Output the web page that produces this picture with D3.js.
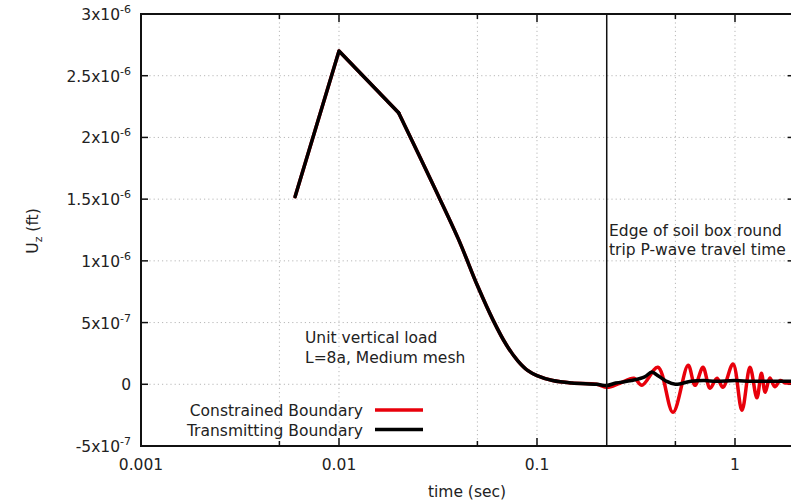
<!DOCTYPE html>
<html><head><meta charset="utf-8">
<script src="https://cdn.jsdelivr.net/npm/d3@7"></script>
<style>
body{margin:0;background:#fff;}
text{font-family:"DejaVu Sans",sans-serif;fill:#222;}
</style></head>
<body>
<svg id="chart" width="791" height="502"></svg>
<script>
// ---- data ----
const blackTime = [0.006, 0.01, 0.02, 0.03, 0.04, 0.05, 0.06, 0.07, 0.08, 0.09, 0.1, 0.12, 0.15, 0.2,
  0.225, 0.25, 0.3, 0.35, 0.38, 0.4, 0.45, 0.5, 0.6, 0.7, 0.8, 1.0, 1.2, 1.5, 2.0];
const blackU = [1.52e-6, 2.70e-6, 2.20e-6, 1.61e-6, 1.18e-6, 0.80e-6, 0.52e-6, 0.32e-6, 0.19e-6, 0.11e-6, 0.07e-6, 0.03e-6, 0.01e-6, 0.0,
  -0.01e-6, 0.01e-6, 0.03e-6, 0.06e-6, 0.10e-6, 0.08e-6, 0.025e-6, 0.0, 0.025e-6, 0.03e-6, 0.025e-6, 0.03e-6, 0.025e-6, 0.025e-6, 0.025e-6];

const redTime = [0.006, 0.01, 0.02, 0.03, 0.04, 0.05, 0.06, 0.07, 0.08, 0.09, 0.1, 0.12, 0.15, 0.2,
  0.226, 0.262, 0.309, 0.339, 0.408, 0.486, 0.58, 0.628, 0.689, 0.748, 0.811, 0.869, 0.977, 1.084, 1.19, 1.29, 1.36, 1.42, 1.5, 1.59, 1.69, 1.8, 2.0];
const redU = [1.52e-6, 2.70e-6, 2.20e-6, 1.61e-6, 1.18e-6, 0.80e-6, 0.52e-6, 0.32e-6, 0.19e-6, 0.11e-6, 0.07e-6, 0.03e-6, 0.01e-6, 0.0,
  -0.025e-6, 0.008e-6, 0.049e-6, -0.008e-6, 0.138e-6, -0.227e-6, 0.154e-6, -0.008e-6, 0.138e-6, -0.032e-6, 0.049e-6, -0.024e-6, 0.165e-6, -0.211e-6, 0.138e-6, -0.11e-6, 0.09e-6, -0.065e-6, 0.05e-6, -0.02e-6, 0.03e-6, 0.01e-6, 0.02e-6];

const xTicks = [0.001, 0.005, 0.01, 0.05, 0.1, 0.5, 1];
const xTickLabels = ["0.001", "", "0.01", "", "0.1", "", "1"];
const yTicks = [-5e-7, 0, 5e-7, 1e-6, 1.5e-6, 2e-6, 2.5e-6, 3e-6];
const yTickMant = ["-5x10", "0", "5x10", "1x10", "1.5x10", "2x10", "2.5x10", "3x10"];
const yTickExp = ["-7", "", "-7", "-6", "-6", "-6", "-6", "-6"];
const seriesNames = ["Constrained Boundary", "Transmitting Boundary"];
const seriesColors = ["#e8000b", "#000000"];
const edgeTime = 0.225;

// ---- layout ----
const svg = d3.select("#chart");
const L = 141, R = 794.6, T = 14, B = 446;
const x = d3.scaleLog().domain([0.001, 2]).range([L, R]);
const y = d3.scaleLinear().domain([-5e-7, 3e-6]).range([B, T]);
const FS = 15.5;

// grid
const grid = svg.append("g").attr("stroke", "#b8b8b8").attr("stroke-width", 1).attr("stroke-dasharray", "1.2,3");
xTicks.slice(1).forEach(t => grid.append("line").attr("x1", x(t)).attr("x2", x(t)).attr("y1", T).attr("y2", B));
yTicks.slice(1, -1).forEach(v => grid.append("line").attr("x1", L).attr("x2", R).attr("y1", y(v)).attr("y2", y(v)));

// ticks
const tk = svg.append("g").attr("stroke", "#111").attr("stroke-width", 1.5);
xTicks.forEach((t, i) => {
  const len = xTickLabels[i] ? 8 : 5;
  tk.append("line").attr("x1", x(t)).attr("x2", x(t)).attr("y1", B).attr("y2", B - len);
  tk.append("line").attr("x1", x(t)).attr("x2", x(t)).attr("y1", T).attr("y2", T + len);
});
yTicks.forEach(v => {
  tk.append("line").attr("x1", L).attr("x2", L + 7).attr("y1", y(v)).attr("y2", y(v));
  tk.append("line").attr("x1", R).attr("x2", R - 7).attr("y1", y(v)).attr("y2", y(v));
});

// tick labels
xTicks.forEach((t, i) => {
  if (!xTickLabels[i]) return;
  svg.append("text").attr("x", x(t)).attr("y", B + 24).attr("text-anchor", "middle")
    .attr("font-size", FS).text(xTickLabels[i]);
});
yTicks.forEach((v, i) => {
  const tx = svg.append("text").attr("x", 131).attr("y", y(v) + 6).attr("text-anchor", "end").attr("font-size", FS);
  tx.append("tspan").text(yTickMant[i]);
  if (yTickExp[i]) tx.append("tspan").attr("dy", -7).attr("font-size", 11).text(yTickExp[i]);
});

// axis titles
svg.append("text").attr("x", 467).attr("y", 497).attr("text-anchor", "middle").attr("font-size", FS).text("time (sec)");
const yl = svg.append("text").attr("transform", "translate(38,231) rotate(-90)").attr("text-anchor", "middle").attr("font-size", FS);
yl.append("tspan").text("U");
yl.append("tspan").attr("dy", 4).attr("font-size", 11).text("z");
yl.append("tspan").attr("dy", -4).text(" (ft)");

// data lines
svg.append("clipPath").attr("id", "pc").append("rect").attr("x", L).attr("y", T).attr("width", R - L).attr("height", B - T);
const plot = svg.append("g").attr("clip-path", "url(#pc)");
function drawSeries(times, vals, color) {
  const pts = times.map((t, i) => [t, vals[i]]);
  const early = pts.filter(p => p[0] <= 0.02);
  const late = pts.filter(p => p[0] >= 0.02);
  const lin = d3.line().x(d => x(d[0])).y(d => y(d[1])).curve(d3.curveLinear);
  const smooth = d3.line().x(d => x(d[0])).y(d => y(d[1])).curve(d3.curveCatmullRom.alpha(0.5));
  [lin(early), smooth(late)].forEach(dd =>
    plot.append("path").attr("d", dd).attr("fill", "none").attr("stroke", color).attr("stroke-width", 3.5)
      .attr("stroke-linejoin", "round").attr("stroke-linecap", "round"));
}
drawSeries(redTime, redU, seriesColors[0]);
drawSeries(blackTime, blackU, seriesColors[1]);

// vertical edge line
svg.append("line").attr("x1", x(edgeTime)).attr("x2", x(edgeTime)).attr("y1", T).attr("y2", B).attr("stroke", "#111").attr("stroke-width", 1.5);

// frame
svg.append("rect").attr("x", L).attr("y", T).attr("width", R - L).attr("height", B - T)
  .attr("fill", "none").attr("stroke", "#111").attr("stroke-width", 2);

// annotations
svg.append("text").attr("x", 305).attr("y", 343).attr("font-size", FS).text("Unit vertical load");
svg.append("text").attr("x", 305).attr("y", 363).attr("font-size", FS).text("L=8a, Medium mesh");
svg.append("text").attr("x", 609).attr("y", 236).attr("font-size", FS).text("Edge of soil box round");
svg.append("text").attr("x", 609).attr("y", 255).attr("font-size", FS).text("trip P-wave travel time");

// legend
seriesNames.forEach((n, i) => {
  const ly = 410 + i * 19.5;
  svg.append("text").attr("x", 363).attr("y", ly + 6).attr("text-anchor", "end").attr("font-size", FS).text(n);
  svg.append("line").attr("x1", 375).attr("x2", 423).attr("y1", ly).attr("y2", ly)
    .attr("stroke", seriesColors[i]).attr("stroke-width", 3.5);
});
</script>
</body></html>
